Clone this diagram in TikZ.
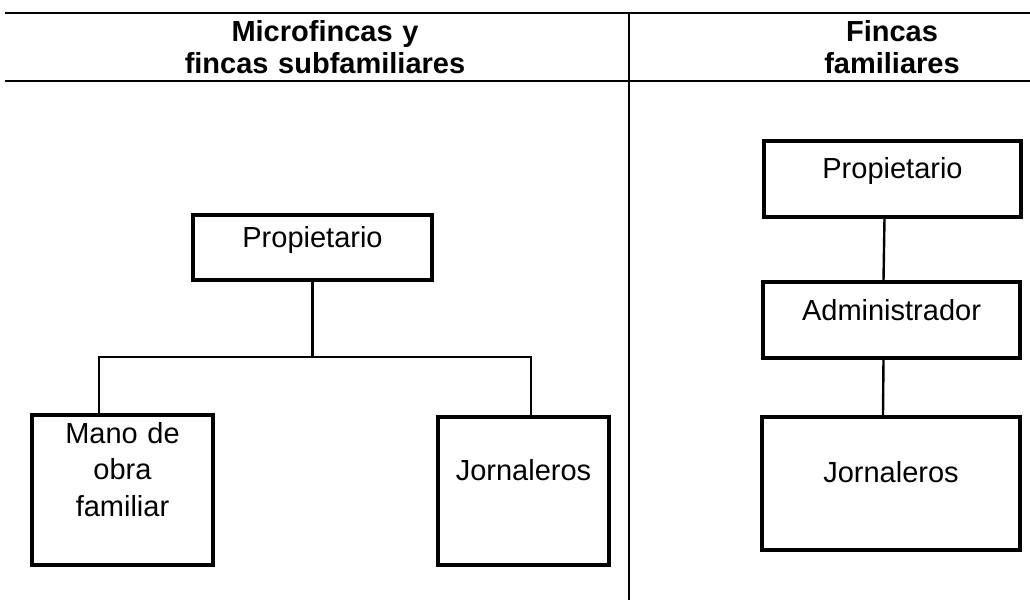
\documentclass[tikz,border=0pt]{standalone}
\usepackage{fontspec}
\setmainfont{Liberation Sans}

\begin{document}
\begin{tikzpicture}[x=0.5pt, y=-0.5pt,
    box/.style={draw, line width=1.6pt, inner sep=0pt, align=center,
      font=\fontsize{14.5pt}{18.25pt}\selectfont},
    link/.style={line width=1.2pt},
    head/.style={text width=300pt, inner sep=0pt, align=center, anchor=base,
      font=\fontsize{14.5pt}{16pt}\selectfont\bfseries}]
      \useasboundingbox (0,0) rectangle (1030,600);
      \draw[line width=1pt] (5,13) -- (1030,13);
      \draw[line width=1.3pt] (5,81) -- (1030,81);
      \draw[line width=0.8pt] (629,13) -- (629,600);
      \node[head] (hleft) at (325,41) {Microfincas y\\fincas subfamiliares};
      \node[head] (hright) at (892,41) {Fincas\\familiares};
      \node[box, text width=119.5pt, text height=16pt, text depth=16.5pt] (lprop) at (312.5,247.5) {Propietario};
      \node[box, text width=90.5pt, text height=14pt, text depth=61pt] (lmano) at (122.5,490) {Mano de\\obra\\familiar};
      \node[box, text width=85.5pt, text height=31.5pt, text depth=42.5pt] (ljorn) at (523.5,491) {Jornaleros};
      \node[box, text width=128.5pt, text height=18.5pt, text depth=19.5pt] (rprop) at (892.5,179) {Propietario};
      \node[box, text width=128.5pt, text height=19pt, text depth=19pt] (radmin) at (891.5,320) {Administrador};
      \node[box, text width=129pt, text height=32.5pt, text depth=34pt] (rjorn) at (891,483.5) {Jornaleros};
      \coordinate (busl) at (99,357);
      \coordinate (busr) at (531,357);
      \draw[link] (lprop.south) -- (lprop.south |- busl);
      \draw[link] (lmano.north -| busl) -- (busl) -- (busr) -- (ljorn.north -| busr);
      \draw[link] ([xshift=-4pt]rprop.south) -- ([xshift=-4pt]radmin.north);
      \draw[link] ([xshift=-4pt]radmin.south) -- ([xshift=-4pt]rjorn.north);
\end{tikzpicture}
\end{document}
